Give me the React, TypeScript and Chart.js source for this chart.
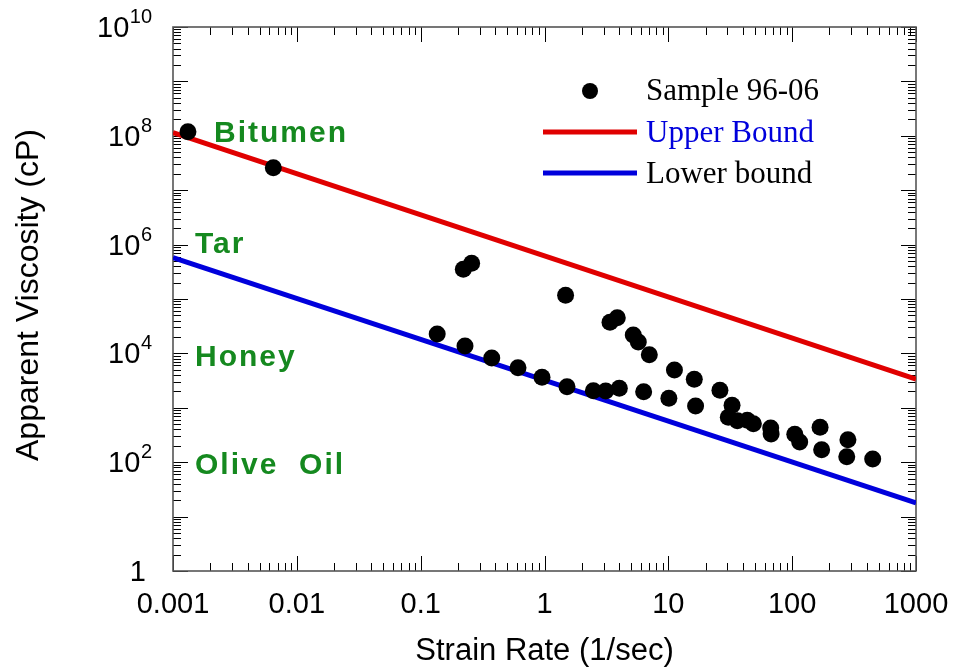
import React, { useEffect, useRef } from "react";
import { Chart, registerables } from "chart.js";

Chart.register(...registerables);

// ---- data ----
const strainRate = [
  0.00132, 0.00646, 0.221, 0.258, 0.136, 0.228, 0.375, 0.611, 0.955, 1.52,
  1.48, 2.48, 3.12, 4.02, 3.38, 3.87, 5.21, 5.72, 7.02, 6.32,
  11.2, 10.1, 16.2, 16.6, 26.1, 32.7, 30.5, 36.1, 43.4, 48.6,
  67.1, 67.6, 105, 115, 168, 173, 282, 276, 447,
];
const viscosity = [
  1.19e8, 2.59e7, 3.52e5, 4.53e5, 2.27e4, 1.37e4, 8230, 5460, 3640, 2440,
  1.17e5, 2060, 2040, 2280, 3.73e4, 4.53e4, 2.18e4, 1.62e4, 9460, 1980,
  4950, 1500, 3340, 1080, 2100, 1110, 669, 579, 589, 510,
  425, 330, 326, 235, 438, 170, 259, 126, 115,
];
const boundX = [0.001, 1000];
const upperBound = [1.14e8, 3380];
const lowerBound = [5.74e5, 17.8];

const xDecades = [0.001, 0.01, 0.1, 1, 10, 100, 1000];
const xTickLabels = ["0.001", "0.01", "0.1", "1", "10", "100", "1000"];
const yDecades = [1, 1e1, 1e2, 1e3, 1e4, 1e5, 1e6, 1e7, 1e8, 1e9, 1e10];
const yLabelExponents = [0, 2, 4, 6, 8, 10];
const minorMultipliers = [2, 3, 4, 5, 6, 7, 8, 9];

const materialLabels = ["Bitumen", "Tar", "Honey", "Olive  Oil"];
const materialLabelX = [214, 195, 195, 195];
const materialLabelBaseline = [142, 253, 366, 474];

const legendLabels = ["Sample 96-06", "Upper Bound", "Lower bound"];

const RED = "#e00000";
const BLUE = "#0000dc";
const GREEN = "#15891f";

const decorPlugin = {
  id: "decor",
  beforeDatasetsDraw(chart: any) {
    const ctx = chart.ctx as CanvasRenderingContext2D;
    const { left, right, top, bottom } = chart.chartArea;
    const xs = chart.scales.x;
    const ys = chart.scales.y;
    ctx.save();
    ctx.strokeStyle = "#000";
    ctx.lineWidth = 1;
    const MAJ = 15;
    const MIN = 8;
    const xTicks: { v: number; major: boolean }[] = [];
    xDecades.forEach((d, i) => {
      xTicks.push({ v: d, major: true });
      if (i < xDecades.length - 1) minorMultipliers.forEach((m) => xTicks.push({ v: d * m, major: false }));
    });
    const yTicks: { v: number; major: boolean }[] = [];
    yDecades.forEach((d, i) => {
      yTicks.push({ v: d, major: true });
      if (i < yDecades.length - 1) minorMultipliers.forEach((m) => yTicks.push({ v: d * m, major: false }));
    });
    ctx.beginPath();
    xTicks.forEach((t) => {
      const px = Math.round(xs.getPixelForValue(t.v)) + 0.5;
      const len = t.major ? MAJ : MIN;
      ctx.moveTo(px, bottom);
      ctx.lineTo(px, bottom - len);
      ctx.moveTo(px, top);
      ctx.lineTo(px, top + len);
    });
    yTicks.forEach((t) => {
      const py = Math.round(ys.getPixelForValue(t.v)) + 0.5;
      const len = t.major ? MAJ : MIN;
      ctx.moveTo(left, py);
      ctx.lineTo(left + len, py);
      ctx.moveTo(right, py);
      ctx.lineTo(right - len, py);
    });
    ctx.stroke();
    ctx.strokeStyle = "#555";
    ctx.lineWidth = 1.6;
    ctx.strokeRect(left, top, right - left, bottom - top);
    ctx.restore();
  },
  afterDraw(chart: any) {
    const ctx = chart.ctx as CanvasRenderingContext2D;
    const { left, right, top, bottom } = chart.chartArea;
    const xs = chart.scales.x;
    const ys = chart.scales.y;
    ctx.save();
    ctx.fillStyle = "#000";
    // x tick labels
    ctx.font = "29px 'Liberation Sans', Arial, sans-serif";
    ctx.textAlign = "center";
    ctx.textBaseline = "alphabetic";
    xDecades.forEach((d, i) => {
      ctx.fillText(xTickLabels[i], xs.getPixelForValue(d), 613);
    });
    // y tick labels with superscripts
    yLabelExponents.forEach((e) => {
      const py = ys.getPixelForValue(Math.pow(10, e));
      if (e === 0) {
        ctx.font = "29px 'Liberation Sans', Arial, sans-serif";
        ctx.textAlign = "right";
        ctx.fillText("1", 146, py + 10);
        return;
      }
      const sup = String(e);
      ctx.font = "20px 'Liberation Sans', Arial, sans-serif";
      const supW = ctx.measureText(sup).width;
      ctx.textAlign = "right";
      const rightEdge = 152;
      ctx.fillText(sup, rightEdge, py - 4);
      ctx.font = "29px 'Liberation Sans', Arial, sans-serif";
      ctx.fillText("10", rightEdge - supW - 0.5, py + 10);
    });
    // axis titles
    ctx.font = "31px 'Liberation Sans', Arial, sans-serif";
    ctx.textAlign = "center";
    ctx.fillText("Strain Rate (1/sec)", (left + right) / 2, 660);
    ctx.font = "32px 'Liberation Sans', Arial, sans-serif";
    ctx.save();
    ctx.translate(38, (top + bottom) / 2 - 4);
    ctx.rotate(-Math.PI / 2);
    ctx.fillText("Apparent Viscosity (cP)", 0, 0);
    ctx.restore();
    // material labels
    ctx.fillStyle = GREEN;
    ctx.font = "bold 30px 'Liberation Sans', Arial, sans-serif";
    ctx.textAlign = "left";
    (ctx as any).letterSpacing = "2px";
    materialLabels.forEach((t, i) => {
      ctx.fillText(t, materialLabelX[i], materialLabelBaseline[i]);
    });
    (ctx as any).letterSpacing = "0px";
    // legend
    const rowY = [91, 132, 173];
    ctx.fillStyle = "#000";
    ctx.beginPath();
    ctx.arc(590, rowY[0], 8, 0, Math.PI * 2);
    ctx.fill();
    ctx.lineWidth = 5;
    ctx.strokeStyle = RED;
    ctx.beginPath();
    ctx.moveTo(543, rowY[1]);
    ctx.lineTo(637, rowY[1]);
    ctx.stroke();
    ctx.strokeStyle = BLUE;
    ctx.beginPath();
    ctx.moveTo(543, rowY[2]);
    ctx.lineTo(637, rowY[2]);
    ctx.stroke();
    ctx.font = "31px 'Liberation Serif', 'Times New Roman', serif";
    ctx.textAlign = "left";
    ctx.fillStyle = "#000";
    ctx.fillText(legendLabels[0], 646, rowY[0] + 9);
    ctx.fillStyle = BLUE;
    ctx.fillText(legendLabels[1], 646, rowY[1] + 10);
    ctx.fillStyle = "#000";
    ctx.fillText(legendLabels[2], 646, rowY[2] + 10);
    ctx.restore();
  },
};

export default function App() {
  const ref = useRef<HTMLCanvasElement | null>(null);
  useEffect(() => {
    if (!ref.current) return;
    const chart = new Chart(ref.current, {
      type: "scatter",
      data: {
        datasets: [
          {
            label: "Upper Bound",
            type: "line",
            data: boundX.map((x, i) => ({ x, y: upperBound[i] })),
            borderColor: RED,
            borderWidth: 5,
            pointRadius: 0,
            fill: false,
            order: 2,
          },
          {
            label: "Lower bound",
            type: "line",
            data: boundX.map((x, i) => ({ x, y: lowerBound[i] })),
            borderColor: BLUE,
            borderWidth: 5,
            pointRadius: 0,
            fill: false,
            order: 2,
          },
          {
            label: "Sample 96-06",
            data: strainRate.map((x, i) => ({ x, y: viscosity[i] })),
            pointRadius: 8.5,
            pointBackgroundColor: "#000",
            pointBorderWidth: 0,
            borderColor: "#000",
            order: 1,
            clip: false,
          } as any,
        ],
      },
      options: {
        responsive: false,
        animation: false,
        layout: { padding: { left: 0, right: 44, top: 27, bottom: 0 } },
        plugins: { legend: { display: false }, tooltip: { enabled: false } },
        scales: {
          x: {
            type: "logarithmic",
            min: 0.001,
            max: 1000,
            ticks: { display: false },
            grid: { display: false },
            border: { display: false },
            afterFit: (s: any) => {
              s.height = 99;
            },
          },
          y: {
            type: "logarithmic",
            min: 1,
            max: 1e10,
            ticks: { display: false },
            grid: { display: false },
            border: { display: false },
            afterFit: (s: any) => {
              s.width = 173;
            },
          },
        },
      } as any,
      plugins: [decorPlugin],
    });
    return () => chart.destroy();
  }, []);
  return (
    <div style={{ position: "fixed", left: 0, top: 0, width: 960, height: 670, background: "#fff" }}>
      <canvas ref={ref} width={960} height={670} style={{ width: 960, height: 670 }} />
    </div>
  );
}
